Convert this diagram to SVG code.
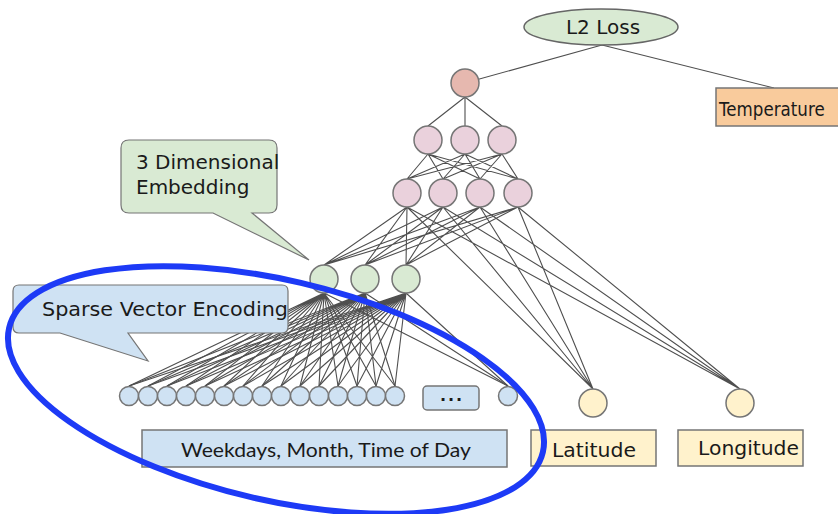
<svg xmlns="http://www.w3.org/2000/svg" width="838" height="514" viewBox="0 0 838 514">
  <style>
    .edge { fill: none; stroke: #4f4f4f; stroke-width: 1.1; }
    .node { stroke: #757575; stroke-width: 1.5; }
    .out { fill: #e6b8af; }
    .hid { fill: #ead1dc; }
    .emb { fill: #d9ead3; }
    .sp { fill: #cfe2f3; }
    .geo { fill: #fff2cc; }
    .lbl { font-family: "DejaVu Sans", "Noto Sans", sans-serif; font-size: 20px; fill: #1a1a1a; }
    .box { stroke: #757575; stroke-width: 1.5; }
    .call { stroke: #757575; stroke-width: 1.2; }
  </style>

  <rect width="838" height="514" fill="#ffffff"/>

  <g id="connectors">
    <!-- loss to prediction and target -->
    <path class="edge" d="M602 45L465 83M602 45L774 88"/>
    <!-- output to hidden layer 2 -->
    <path class="edge" d="M465 97L428 126M465 97L465 126M465 97L502 126"/>
    <!-- hidden layer 2 to hidden layer 1 -->
    <path class="edge" d="M428 154L407 179M428 154L443 179M428 154L480 179M428 154L518 179
                          M465 154L407 179M465 154L443 179M465 154L480 179M465 154L518 179
                          M502 154L407 179M502 154L443 179M502 154L480 179M502 154L518 179"/>
    <!-- hidden layer 1 to embedding, latitude and longitude -->
    <path class="edge" d="M407 207L324 265M407 207L365 265M407 207L406 265M407 207L593 389M407 207L740 389
                          M443 207L324 265M443 207L365 265M443 207L406 265M443 207L593 389M443 207L740 389
                          M480 207L324 265M480 207L365 265M480 207L406 265M480 207L593 389M480 207L740 389
                          M518 207L324 265M518 207L365 265M518 207L406 265M518 207L593 389M518 207L740 389"/>
    <!-- embedding to sparse inputs -->
    <path class="edge" d="M324 293L129 386M324 293L148 386M324 293L167 386M324 293L186 386M324 293L205 386M324 293L224 386M324 293L243 386M324 293L262 386
                          M324 293L281 386M324 293L300 386M324 293L319 386M324 293L338 386M324 293L357 386M324 293L376 386M324 293L395 386M324 293L508 386"/>
    <path class="edge" d="M365 293L129 386M365 293L148 386M365 293L167 386M365 293L186 386M365 293L205 386M365 293L224 386M365 293L243 386M365 293L262 386
                          M365 293L281 386M365 293L300 386M365 293L319 386M365 293L338 386M365 293L357 386M365 293L376 386M365 293L395 386M365 293L508 386"/>
    <path class="edge" d="M406 293L129 386M406 293L148 386M406 293L167 386M406 293L186 386M406 293L205 386M406 293L224 386M406 293L243 386M406 293L262 386
                          M406 293L281 386M406 293L300 386M406 293L319 386M406 293L338 386M406 293L357 386M406 293L376 386M406 293L395 386M406 293L508 386"/>
  </g>

  <g id="l2-loss">
    <ellipse cx="601" cy="27" rx="77" ry="18" fill="#d9ead3" stroke="#666" stroke-width="1.5"/>
    <text class="lbl" x="603" y="34" text-anchor="middle">L2 Loss</text>
  </g>

  <g id="temperature">
    <!-- box runs to the right border; its right side is not drawn -->
    <rect x="716" y="88" width="122" height="38" fill="#f9cb9c"/>
    <path class="box" fill="none" d="M838 88H716V126H838"/>
    <!-- horizontally condensed label -->
    <text class="lbl" x="0" y="0" transform="translate(719 116) scale(0.835 1)">Temperature</text>
  </g>

  <g id="output-node">
    <circle class="node out" cx="465" cy="83" r="14"/>
  </g>

  <g id="hidden-2">
    <circle class="node hid" cx="428" cy="140" r="14"/>
    <circle class="node hid" cx="465" cy="140" r="14"/>
    <circle class="node hid" cx="502" cy="140" r="14"/>
  </g>

  <g id="hidden-1">
    <circle class="node hid" cx="407" cy="193" r="14"/>
    <circle class="node hid" cx="443" cy="193" r="14"/>
    <circle class="node hid" cx="480" cy="193" r="14"/>
    <circle class="node hid" cx="518" cy="193" r="14"/>
  </g>

  <g id="embedding">
    <circle class="node emb" cx="324" cy="279" r="14"/>
    <circle class="node emb" cx="365" cy="279" r="14"/>
    <circle class="node emb" cx="406" cy="279" r="14"/>
  </g>

  <g id="sparse-inputs">
    <circle class="node sp" cx="129" cy="396" r="9.5"/>
    <circle class="node sp" cx="148" cy="396" r="9.5"/>
    <circle class="node sp" cx="167" cy="396" r="9.5"/>
    <circle class="node sp" cx="186" cy="396" r="9.5"/>
    <circle class="node sp" cx="205" cy="396" r="9.5"/>
    <circle class="node sp" cx="224" cy="396" r="9.5"/>
    <circle class="node sp" cx="243" cy="396" r="9.5"/>
    <circle class="node sp" cx="262" cy="396" r="9.5"/>
    <circle class="node sp" cx="281" cy="396" r="9.5"/>
    <circle class="node sp" cx="300" cy="396" r="9.5"/>
    <circle class="node sp" cx="319" cy="396" r="9.5"/>
    <circle class="node sp" cx="338" cy="396" r="9.5"/>
    <circle class="node sp" cx="357" cy="396" r="9.5"/>
    <circle class="node sp" cx="376" cy="396" r="9.5"/>
    <circle class="node sp" cx="395" cy="396" r="9.5"/>
    <circle class="node sp" cx="508" cy="396" r="9.5"/>
  </g>

  <g id="ellipsis">
    <rect class="box" x="423" y="386" width="56" height="24" rx="4" fill="#cfe2f3"/>
    <text x="452" y="401" text-anchor="middle" font-family="'DejaVu Sans', sans-serif" font-size="16" font-weight="bold" letter-spacing="2" fill="#1a1a1a">...</text>
  </g>

  <g id="weekdays">
    <rect class="box" x="142" y="430" width="365" height="37" fill="#cfe2f3"/>
    <text x="181" y="457" font-family="Lato, 'Open Sans', sans-serif" font-size="20" fill="#1a1a1a" textLength="290" lengthAdjust="spacingAndGlyphs">Weekdays, Month, Time of Day</text>
  </g>

  <g id="latitude">
    <circle class="node geo" cx="593" cy="403" r="14"/>
    <rect class="box" x="531" y="430" width="125" height="36" fill="#fff2cc"/>
    <text class="lbl" x="552" y="457" textLength="84" lengthAdjust="spacingAndGlyphs">Latitude</text>
  </g>

  <g id="longitude">
    <circle class="node geo" cx="740" cy="403" r="14"/>
    <rect class="box" x="678" y="430" width="125" height="36" fill="#fff2cc"/>
    <text class="lbl" x="698" y="455" textLength="101" lengthAdjust="spacingAndGlyphs">Longitude</text>
  </g>

  <g id="callout-embedding">
    <path class="call" fill="#d9ead3" d="M129 140H269Q277 140 277 148V205Q277 213 269 213H252L309 260L213 213H129Q121 213 121 205V148Q121 140 129 140Z"/>
    <text class="lbl" x="136" y="169">3 Dimensional</text>
    <text class="lbl" x="136" y="194">Embedding</text>
  </g>

  <g id="callout-sparse">
    <path class="call" fill="#cfe2f3" d="M19 285H282Q288 285 288 291V327Q288 333 282 333H128L148 361L60 333H19Q13 333 13 327V291Q13 285 19 285Z"/>
    <text class="lbl" x="42" y="316" textLength="246" lengthAdjust="spacingAndGlyphs">Sparse Vector Encoding</text>
  </g>

  <g id="highlight">
    <ellipse cx="276" cy="390" rx="274" ry="110" transform="rotate(13.1 276 390)" fill="none" stroke="#1d3af6" stroke-width="6"/>
  </g>
</svg>
